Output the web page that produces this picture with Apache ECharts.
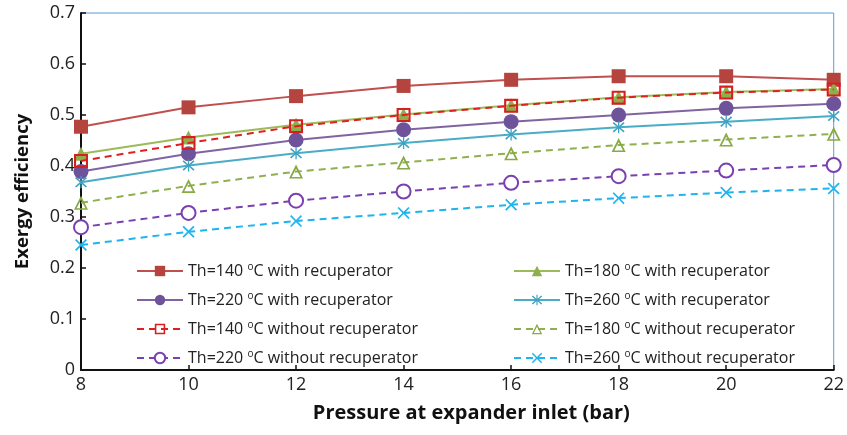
<!DOCTYPE html>
<html>
<head>
<meta charset="utf-8">
<script src="https://cdn.jsdelivr.net/npm/echarts@6/dist/echarts.min.js"></script>
<style>
  html, body { margin: 0; padding: 0; background: #fff; }
  #chart { width: 847px; height: 435px; }
</style>
</head>
<body>
<div id="chart"></div>
<script>
// Expander inlet pressure (bar)
const pressures = [8, 10, 12, 14, 16, 18, 20, 22];
const yTicks = [0, 0.1, 0.2, 0.3, 0.4, 0.5, 0.6, 0.7];

// Exergy efficiency, with recuperator
const th140With = [0.477, 0.515, 0.537, 0.557, 0.569, 0.576, 0.576, 0.569];
const th180With = [0.424, 0.456, 0.481, 0.501, 0.519, 0.535, 0.545, 0.551];
const th220With = [0.389, 0.424, 0.451, 0.471, 0.487, 0.500, 0.513, 0.522];
const th260With = [0.368, 0.401, 0.425, 0.445, 0.462, 0.476, 0.487, 0.498];

// Exergy efficiency, without recuperator
const th140Without = [0.410, 0.445, 0.478, 0.500, 0.518, 0.534, 0.544, 0.550];
const th180Without = [0.328, 0.361, 0.389, 0.407, 0.425, 0.441, 0.452, 0.463];
const th220Without = [0.280, 0.308, 0.332, 0.350, 0.367, 0.380, 0.391, 0.402];
const th260Without = [0.245, 0.271, 0.292, 0.308, 0.324, 0.337, 0.348, 0.356];

const names = {
  a: 'Th=140 °C with recuperator',
  b: 'Th=180 °C with recuperator',
  c: 'Th=220 °C with recuperator',
  d: 'Th=260 °C with recuperator',
  e: 'Th=140 °C without recuperator',
  f: 'Th=180 °C without recuperator',
  g: 'Th=220 °C without recuperator',
  h: 'Th=260 °C without recuperator'
};

// Marker outlines built as filled polygons (inner contours wound the other way leave see-through holes)
const xMark = 'path://M0,1 L1,0 L5,4 L9,0 L10,1 L6,5 L10,9 L9,10 L5,6 L1,10 L0,9 L4,5 Z';
const starMark = 'path://M0,1.6 L1,0.6 L5,4.3 L9,0.6 L10,1.6 L6,5 L10,8.4 L9,9.4 L5,5.7 L1,9.4 L0,8.4 L4,5 Z M4.45,0 L5.55,0 L5.55,10 L4.45,10 Z';
const hollowSquare = 'path://M0,0 L10,0 L10,10 L0,10 Z M1.5,1.5 L1.5,8.5 L8.5,8.5 L8.5,1.5 Z';
const hollowTriangle = 'path://M5,0 L10,10 L0,10 Z M5,2.9 L1.9,8.9 L8.1,8.9 Z';

const FONT = '"Open Sans", sans-serif';
const dash = [7, 5];

function mk(name, data, color, symbol, size, dashed, symColor) {
  return {
    name, type: 'line', data: pressures.map((p, i) => [p, data[i]]),
    symbol, symbolSize: size,
    lineStyle: { color, width: 2, type: dashed ? dash : 'solid' },
    itemStyle: symbol.indexOf('empty') === 0
      ? { color, borderWidth: 1.8 }
      : { color: symColor || color, borderWidth: 0 },
    emphasis: { disabled: true },
    z: dashed ? 3 : 2
  };
}

const series = [
  mk(names.a, th140With, '#c0504d', 'rect', 14, false, '#b5443f'),
  mk(names.b, th180With, '#9bbb59', 'triangle', 14, false, '#8db04c'),
  mk(names.c, th220With, '#8064a2', 'circle', 15, false, '#6f539a'),
  mk(names.d, th260With, '#4bacc6', starMark, 12, false, '#3da3c0'),
  mk(names.e, th140Without, '#e02020', hollowSquare, 14, true, '#d81e1e'),
  mk(names.f, th180Without, '#8fb04f', hollowTriangle, 14, true, '#86aa44'),
  mk(names.g, th220Without, '#7a3fb0', 'emptyCircle', 14, true),
  mk(names.h, th260Without, '#1eb4ee', xMark, 12, true, '#1eb4ee')
];

const legendText = {
  fontFamily: FONT, fontSize: 16, color: '#222', lineHeight: 18, padding: [0, 0, 0, 0],
  rich: { sup: { fontFamily: FONT, fontSize: 10, lineHeight: 18, verticalAlign: 'top', padding: [0, 0, 6, 0], color: '#222' } }
};
const legendFmt = n => n.replace('°', '{sup|o}');
const legendBase = {
  orient: 'vertical', itemWidth: 46, itemHeight: 13, itemGap: 11,
  textStyle: legendText, formatter: legendFmt, selectedMode: false, top: 257
};

const chart = echarts.init(document.getElementById('chart'), null, { renderer: 'canvas' });
chart.setOption({
  animation: false,
  backgroundColor: '#fff',
  grid: { left: 81, right: 9, top: 13, bottom: 65, show: true, borderColor: '#5b9bd5', borderWidth: 1, backgroundColor: 'transparent' },
  legend: [
    Object.assign({}, legendBase, { left: 131, data: [names.a, names.c, names.e, names.g] }),
    Object.assign({}, legendBase, { left: 508, data: [names.b, names.d, names.f, names.h] })
  ],
  xAxis: {
    type: 'value', min: 8, max: 22, interval: 2,
    name: 'Pressure at expander inlet (bar)', nameLocation: 'middle', nameGap: 33,
    nameTextStyle: { fontFamily: FONT, fontSize: 20, fontWeight: 'bold', color: '#111', padding: [0, 0, 0, 28] },
    axisLine: { show: true, lineStyle: { color: '#111', width: 2 } },
    axisTick: { show: true, inside: true, length: 5, lineStyle: { color: '#111', width: 1.5 } },
    axisLabel: { fontFamily: FONT, fontSize: 18, color: '#222', margin: 6,
      formatter: v => pressures.includes(v) ? String(v) : '' },
    splitLine: { show: false }
  },
  yAxis: {
    type: 'value', min: 0, max: 0.7, interval: 0.1,
    name: 'Exergy efficiency', nameLocation: 'middle', nameGap: 49,
    nameTextStyle: { fontFamily: FONT, fontSize: 18.5, fontWeight: 'bold', color: '#111' },
    axisLine: { show: true, lineStyle: { color: '#111', width: 2 } },
    axisTick: { show: true, inside: true, length: 5, lineStyle: { color: '#111', width: 1.5 } },
    axisLabel: { fontFamily: FONT, fontSize: 18, color: '#222', margin: 6,
      formatter: v => { const t = yTicks.find(k => Math.abs(k - v) < 1e-9); return t === undefined ? '' : (t === 0 ? '0' : t.toFixed(1)); } },
    splitLine: { show: false }
  },
  series
});
</script>
</body>
</html>
